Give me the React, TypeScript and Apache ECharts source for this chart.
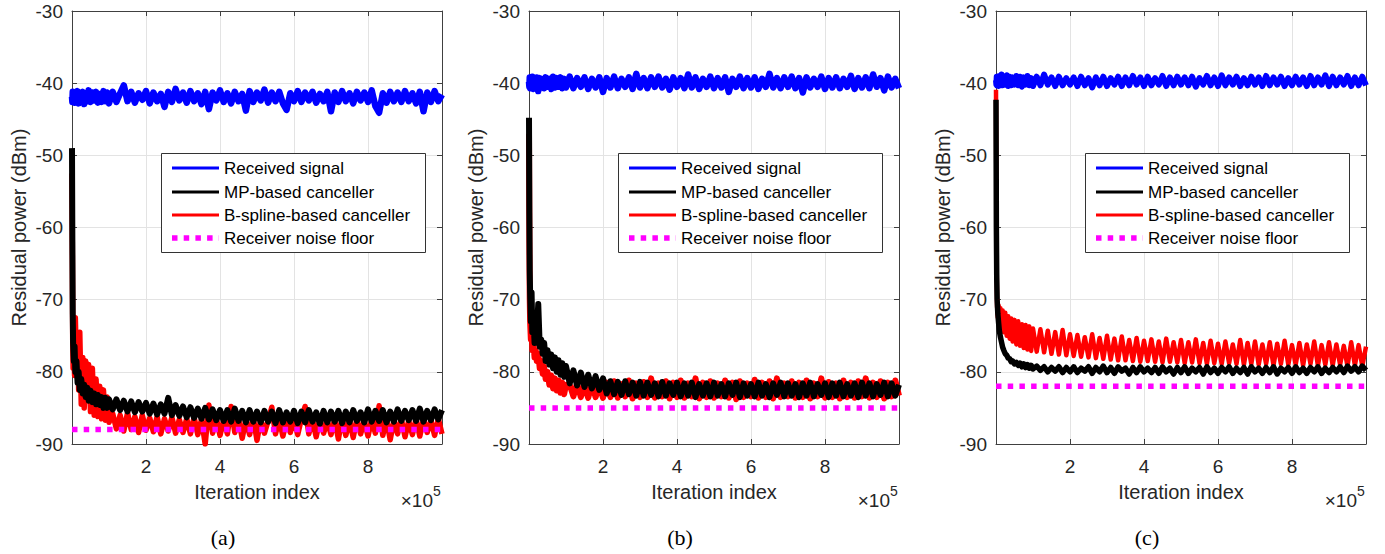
import React, { useEffect, useRef } from "react";
import * as echarts from "echarts";

// Iteration index (x 10^5)
const ITER = [
  0, 0.01, 0.02, 0.03, 0.05, 0.07, 0.09, 0.12, 0.15, 0.18, 0.21, 0.25, 0.29, 0.33, 0.37, 0.41, 0.45,
  0.5, 0.55, 0.6, 0.65, 0.7, 0.75, 0.8, 0.85, 0.9, 0.95, 1.0,
  1.1, 1.2, 1.3, 1.4, 1.5, 1.6, 1.7, 1.8, 1.9, 2.0,
  2.1, 2.2, 2.3, 2.4, 2.5, 2.6, 2.7, 2.8, 2.9, 3.0,
  3.1, 3.2, 3.3, 3.4, 3.5, 3.6, 3.7, 3.8, 3.9, 4.0,
  4.1, 4.2, 4.3, 4.4, 4.5, 4.6, 4.7, 4.8, 4.9, 5.0,
  5.1, 5.2, 5.3, 5.4, 5.5, 5.6, 5.7, 5.8, 5.9, 6.0,
  6.1, 6.2, 6.3, 6.4, 6.5, 6.6, 6.7, 6.8, 6.9, 7.0,
  7.1, 7.2, 7.3, 7.4, 7.5, 7.6, 7.7, 7.8, 7.9, 8.0,
  8.1, 8.2, 8.3, 8.4, 8.5, 8.6, 8.7, 8.8, 8.9, 9.0,
  9.1, 9.2, 9.3, 9.4, 9.5, 9.6, 9.7, 9.8, 9.9, 10.0,
];

// ---------- Panel (a) ----------
const BLUE_A = [
  -41.9, -42.6, -41.2, -42.5, -41.4, -42.7, -41.3, -42.4, -41.1, -42.8,
  -41.5, -42.3, -41.2, -42.9, -41.4, -42.5, -41.0, -42.6, -41.3, -42.4,
  -41.2, -42.7, -41.5, -42.6, -41.1, -42.5, -41.3, -42.8,
  -41.2, -42.6, -41.4, -40.3, -42.5, -41.2, -42.7, -41.4, -42.3, -41.1,
  -42.8, -41.3, -42.5, -41.5, -43.3, -41.2, -42.6, -40.8, -42.4, -41.3,
  -42.7, -41.1, -42.5, -41.4, -42.9, -41.2, -43.6, -41.3, -42.4, -41.0,
  -42.6, -41.4, -42.8, -41.2, -42.5, -41.5, -43.8, -41.1, -42.6, -41.3,
  -42.4, -40.9, -42.7, -41.3, -42.5, -41.2, -42.8, -43.7, -41.4, -42.5,
  -41.1, -42.6, -41.3, -42.4, -41.2, -42.7, -41.5, -42.5, -41.2, -43.9,
  -41.3, -42.6, -41.1, -42.5, -41.4, -42.8, -41.2, -42.4, -41.3, -42.6,
  -41.0, -43.2, -44.1, -41.4, -42.7, -41.2, -42.5, -41.3, -42.6, -41.1,
  -42.5, -41.4, -42.8, -41.2, -43.9, -41.3, -42.6, -41.1, -42.5, -41.6,
];
const MP_A = [
  -49, -62, -72, -76, -78.5, -76.5, -80, -78.5, -81.5, -80,
  -82.5, -81, -83, -81.8, -83.5, -82.2, -84, -82.6, -84.2, -83,
  -84.5, -83.2, -84.6, -83.5, -85, -83.6, -85, -83.8,
  -85.2, -83.8, -85.3, -84, -85.5, -84.1, -85.6, -84.2, -85.5, -84.3,
  -85.8, -84.4, -85.9, -84.5, -85.8, -83.6, -86, -84.6, -86.1, -84.8,
  -86.3, -84.9, -86.4, -85.1, -86.5, -85, -86.6, -85.2, -86.7, -85.3,
  -86.8, -85.3, -86.9, -85.1, -86.8, -85.4, -87, -85.3, -86.9, -85.5,
  -87, -85.4, -86.9, -85.5, -87.1, -85.3, -87, -85.6, -86.9, -85.4,
  -87.1, -85.5, -87, -85.3, -86.9, -85.6, -87.2, -85.4, -87, -85.5,
  -86.9, -85.4, -87.1, -85.5, -87, -85.3, -86.8, -85.6, -87, -85.2,
  -86.9, -85.4, -86.8, -85.3, -87, -85.5, -86.9, -85.2, -86.8, -85.4,
  -86.7, -85.3, -86.8, -85.1, -86.9, -85.4, -86.7, -85.2, -86.6, -85.3,
];
const BS_A = [
  -52.5, -64, -76, -79.5, -77, -80.5, -72.5, -79, -75, -82.5,
  -74.5, -84.5, -78, -85, -78.5, -84, -79, -85.5, -79.5, -86,
  -81, -86.2, -82, -86.5, -82.5, -86.7, -83.5, -87,
  -85.8, -87.9, -86, -88.2, -85.7, -88, -86.2, -88.4, -86, -88.1,
  -86.4, -88.3, -86.2, -88.6, -86.5, -88.2, -86.3, -88.5, -86.6, -88.4,
  -86.5, -88.6, -86.3, -88.7, -86.6, -90, -84.6, -88.5, -86.4, -88.8,
  -86.7, -88.6, -84.8, -88.4, -86.5, -89.2, -86.6, -88.7, -86.4, -89.5,
  -86.6, -88.5, -86.8, -84.9, -88.6, -86.5, -88.9, -86.7, -88.4, -86.6,
  -88.7, -86.5, -84.8, -88.6, -86.7, -89, -86.5, -88.5, -86.8, -88.7,
  -86.6, -89.3, -86.4, -88.8, -86.7, -89.1, -86.5, -88.6, -86.8, -88.9,
  -86.6, -88.5, -84.7, -88.8, -86.5, -89.4, -86.7, -88.6, -86.5, -89,
  -86.8, -88.7, -86.5, -88.9, -86.6, -88.4, -86.7, -88.8, -86.5, -88.6,
];

// ---------- Panel (b) ----------
const BLUE_B = [
  -39.8, -40.5, -39.2, -40.7, -39.3, -40.6, -39.1, -40.8, -39.4, -40.5,
  -39.2, -41.1, -39.3, -40.6, -39.5, -40.7, -39.2, -40.5, -39.4, -40.8,
  -39.1, -40.6, -39.3, -40.5, -39.2, -40.7, -39.4, -40.6,
  -39.1, -40.7, -39.3, -40.5, -39.2, -40.8, -39.4, -40.6, -39.2, -41.2,
  -39.3, -40.6, -39.1, -40.7, -39.4, -40.5, -39.2, -40.8, -38.7, -40.6,
  -39.3, -40.7, -39.2, -40.5, -39.1, -40.6, -39.4, -40.9, -39.2, -40.5,
  -39.3, -40.7, -38.8, -40.6, -39.2, -40.8, -39.4, -40.5, -39.1, -40.7,
  -39.3, -40.6, -39.2, -41.2, -39.4, -40.5, -39.1, -40.7, -39.3, -40.6,
  -39.2, -40.8, -39.4, -40.5, -38.7, -40.6, -39.3, -40.7, -39.2, -40.5,
  -39.1, -40.7, -39.3, -41.3, -39.2, -40.6, -39.4, -40.5, -39.1, -40.8,
  -39.3, -40.6, -39.2, -40.7, -39.4, -40.5, -39.0, -40.8, -39.3, -40.6,
  -39.2, -40.7, -38.8, -40.5, -39.3, -41.0, -39.1, -40.6, -39.4, -40.7,
];
const MP_B = [
  -44.8, -58, -66, -69, -73, -69, -74.5, -72.5, -76, -74,
  -74.5, -70.6, -76.5, -75.5, -77.5, -76, -78.5, -77, -79, -77.6,
  -79.5, -78, -80, -78.4, -80.4, -78.8, -80.7, -79.2,
  -81.6, -79.8, -81.9, -80.1, -82.1, -80.4, -82.3, -80.6, -82.5, -80.9,
  -83.0, -81.3, -83.1, -81.4, -83.2, -81.3, -83.1, -81.5, -83.3, -81.4,
  -83.3, -81.5, -83.2, -81.6, -83.4, -81.4, -83.3, -81.6, -83.2, -81.5,
  -83.4, -81.6, -83.3, -81.5, -83.5, -81.7, -83.3, -81.6, -83.4, -81.5,
  -83.3, -81.7, -83.4, -81.6, -83.2, -81.5, -83.5, -81.6, -83.3, -81.7,
  -83.4, -81.5, -83.3, -81.7, -83.5, -81.6, -83.2, -81.5, -83.4, -81.6,
  -83.3, -81.7, -83.5, -81.6, -83.3, -81.5, -83.4, -81.7, -83.2, -81.6,
  -83.5, -81.6, -83.3, -81.5, -83.4, -81.7, -83.3, -81.6, -83.5, -81.5,
  -83.3, -81.6, -83.4, -81.7, -83.2, -81.5, -83.4, -81.6, -83.3, -81.8,
];
const BS_B = [
  -47, -62, -70, -73, -75.5, -73.5, -77, -76, -78, -77,
  -78.5, -77.5, -79.5, -78.5, -80.3, -79.3, -81, -80, -81.8, -80.5,
  -82.3, -80.9, -82.6, -81.2, -82.9, -81.5, -83.1, -81.8,
  -81.8, -83.4, -81.6, -83.5, -81.9, -83.6, -81.7, -83.5, -81.9, -83.6,
  -81.5, -83.5, -81.3, -83.6, -81.7, -83.4, -81.2, -83.7, -81.6, -83.5,
  -81.4, -83.5, -80.9, -83.6, -81.6, -83.4, -81.3, -83.7, -81.5, -83.5,
  -81.2, -83.6, -81.6, -83.4, -80.9, -83.7, -81.5, -83.5, -81.3, -83.6,
  -81.6, -83.4, -81.2, -83.6, -81.5, -83.8, -81.3, -83.5, -81.6, -83.4,
  -81.1, -83.6, -81.5, -83.5, -81.3, -83.7, -80.9, -83.5, -81.6, -83.4,
  -81.3, -83.6, -81.5, -83.5, -81.2, -83.7, -81.6, -83.4, -80.9, -83.6,
  -81.4, -83.5, -81.6, -83.7, -81.2, -83.5, -81.5, -83.6, -81.3, -83.4,
  -80.9, -83.6, -81.5, -83.5, -81.3, -83.7, -81.5, -83.4, -81.2, -83.3,
];

// ---------- Panel (c) ----------
const BLUE_C = [
  -39.6, -40.2, -39.1, -40.3, -39.2, -40.4, -39.0, -40.2, -38.8, -40.3,
  -39.2, -40.2, -38.9, -40.4, -39.1, -40.3, -39.2, -40.2, -39.0, -40.3,
  -39.1, -40.5, -39.2, -40.2, -39.0, -40.3, -39.3, -40.4,
  -39.1, -40.3, -38.8, -40.2, -39.2, -40.4, -39.1, -40.3, -39.3, -40.2,
  -39.2, -40.4, -39.1, -40.3, -39.3, -40.6, -39.2, -40.3, -39.1, -40.4,
  -39.3, -40.2, -39.1, -40.4, -39.2, -40.3, -39.0, -40.2, -39.2, -40.4,
  -39.1, -40.3, -39.3, -40.2, -39.0, -40.4, -39.2, -40.3, -39.1, -40.2,
  -39.2, -40.3, -39.1, -40.5, -39.3, -40.2, -39.0, -40.3, -39.2, -40.4,
  -38.9, -40.3, -39.2, -40.2, -39.1, -40.4, -39.3, -40.3, -39.1, -40.2,
  -39.2, -40.4, -39.0, -40.3, -39.2, -40.2, -39.1, -40.4, -39.3, -40.3,
  -39.1, -40.2, -39.2, -40.4, -39.0, -40.3, -39.2, -40.2, -38.9, -40.4,
  -39.1, -40.3, -39.2, -40.2, -39.0, -40.4, -39.2, -40.3, -39.1, -40.3,
];
const MP_C = [
  -42.3, -60, -67, -70, -72, -73.2, -74.3, -75.2, -75.9, -76.6,
  -77, -77.5, -77.7, -78.1, -78.2, -78.6, -78.5, -78.9, -78.7, -79.1,
  -78.8, -79.3, -78.9, -79.4, -79, -79.5, -79.1, -79.6,
  -79.2, -79.8, -79.3, -80.0, -79.4, -79.9, -79.3, -80.1, -79.4, -80.0,
  -79.3, -80.1, -79.5, -79.9, -79.3, -80.2, -79.4, -80.0, -79.2, -80.1,
  -79.4, -80.2, -79.3, -79.9, -79.5, -80.3, -79.4, -80.1, -79.3, -80.0,
  -79.5, -80.1, -79.4, -80.2, -79.3, -80.0, -79.5, -80.3, -79.4, -80.1,
  -79.3, -80.2, -79.5, -80.0, -79.4, -80.3, -79.3, -80.1, -79.5, -80.2,
  -79.4, -80.0, -79.3, -80.2, -79.5, -80.1, -79.4, -80.3, -79.3, -80.0,
  -79.5, -80.2, -79.4, -80.1, -79.3, -80.3, -79.5, -80.0, -79.4, -80.2,
  -79.3, -80.1, -79.5, -80.2, -79.4, -80.0, -79.3, -80.2, -79.5, -80.1,
  -79.4, -80.0, -79.3, -80.1, -79.2, -79.9, -79.3, -80.0, -79.2, -79.8,
];
const BS_C = [
  -40.9, -58, -66, -71, -72.5, -70.8, -73, -71.2, -73.8, -71.5,
  -74.5, -71.8, -75, -72.3, -75.4, -72.6, -75.8, -72.8, -76.2, -73,
  -76.4, -73.4, -76.7, -73.5, -76.9, -73.7, -77.1, -74,
  -77.2, -74.1, -77.3, -74.3, -77.5, -74.5, -77.6, -74.2, -77.7, -74.8,
  -77.8, -74.9, -77.9, -75.2, -78.0, -74.8, -78.1, -75.3, -78.2, -75.0,
  -78.3, -75.4, -78.4, -75.1, -78.4, -75.6, -78.5, -75.3, -78.6, -75.7,
  -78.5, -75.5, -78.6, -75.8, -78.7, -75.4, -78.6, -75.9, -78.7, -75.6,
  -78.8, -75.9, -78.7, -75.5, -78.8, -76.0, -78.9, -75.7, -78.8, -76.1,
  -78.9, -75.8, -78.8, -76.2, -78.9, -75.6, -79.0, -76.0, -78.9, -75.8,
  -79.0, -76.2, -78.9, -75.9, -79.1, -76.1, -78.9, -75.7, -79.0, -76.3,
  -79.0, -76.0, -79.1, -76.2, -78.9, -75.8, -79.1, -76.3, -79.0, -75.9,
  -79.1, -76.2, -79.0, -76.4, -79.2, -75.9, -79.1, -76.3, -79.2, -76.5,
];

const NOISE_FLOOR = [-88, -85, -82];
const CAPTIONS = ["(a)", "(b)", "(c)"];
const SERIES_NAMES = [
  "Received signal",
  "MP-based canceller",
  "B-spline-based canceller",
  "Receiver noise floor",
];
const SERIES_COLORS = ["#0000ff", "#000000", "#ff0000", "#ff00ff"];
const X_MIN = 0;
const X_MAX = 10;
const X_STEP = 2;
const Y_MIN = -90;
const Y_MAX = -30;
const Y_STEP = 10;

const PANELS = [
  { blue: BLUE_A, mp: MP_A, bs: BS_A, floor: NOISE_FLOOR[0], widths: [6.5, 6, 5.5] },
  { blue: BLUE_B, mp: MP_B, bs: BS_B, floor: NOISE_FLOOR[1], widths: [6.5, 6, 6] },
  { blue: BLUE_C, mp: MP_C, bs: BS_C, floor: NOISE_FLOOR[2], widths: [6, 5.5, 4.5] },
];

// layout
const GRID_LEFT = [72, 529, 996];
const GRID_TOP = 11;
const GRID_W = 370;
const GRID_H = 433;
const SANS = "'Liberation Sans', Arial, Helvetica, sans-serif";
const SERIF = "'Liberation Serif', 'Times New Roman', serif";
const AXIS_COLOR = "#404040";
const TEXT_COLOR = "#262626";
const GRID_COLOR = "#e3e3e3";
const DOT_DASH = [5.5, 6.2];

function pairs(ys: number[]) {
  const out: number[][] = [];
  for (let i = 0; i < ITER.length && i < ys.length; i++) out.push([ITER[i], ys[i]]);
  return out;
}

function buildOption() {
  const grid: any[] = [];
  const xAxis: any[] = [];
  const yAxis: any[] = [];
  const series: any[] = [];
  const graphic: any[] = [];

  const axisLine = { show: true, onZero: false, lineStyle: { color: AXIS_COLOR, width: 1 } };
  const axisTick = { show: true, inside: true, length: 5, lineStyle: { color: AXIS_COLOR, width: 1 } };

  PANELS.forEach((p, i) => {
    const left = GRID_LEFT[i];
    const right = left + GRID_W;
    grid.push({ left, top: GRID_TOP, width: GRID_W, height: GRID_H });

    xAxis.push({
      type: "value", gridIndex: i, min: X_MIN, max: X_MAX, interval: X_STEP, position: "bottom",
      name: "Iteration index", nameLocation: "middle", nameGap: 38,
      nameTextStyle: { fontSize: 20, color: TEXT_COLOR, fontFamily: SANS },
      axisLine, axisTick,
      axisLabel: { fontSize: 19, color: TEXT_COLOR, fontFamily: SANS, margin: 13, showMinLabel: false, showMaxLabel: false },
      splitLine: { show: true, lineStyle: { color: GRID_COLOR, width: 1 } },
    });
    xAxis.push({
      type: "value", gridIndex: i, min: X_MIN, max: X_MAX, interval: X_STEP, position: "top",
      axisLine, axisTick, axisLabel: { show: false }, splitLine: { show: false },
    });
    yAxis.push({
      type: "value", gridIndex: i, min: Y_MIN, max: Y_MAX, interval: Y_STEP, position: "left",
      name: "Residual power (dBm)", nameLocation: "middle", nameGap: 43, nameRotate: 90,
      nameTextStyle: { fontSize: 20, color: TEXT_COLOR, fontFamily: SANS },
      axisLine, axisTick,
      axisLabel: { fontSize: 19, color: TEXT_COLOR, fontFamily: SANS, margin: 9 },
      splitLine: { show: true, lineStyle: { color: GRID_COLOR, width: 1 } },
    });
    yAxis.push({
      type: "value", gridIndex: i, min: Y_MIN, max: Y_MAX, interval: Y_STEP, position: "right",
      axisLine, axisTick, axisLabel: { show: false }, splitLine: { show: false },
    });

    const common = {
      type: "line", xAxisIndex: 2 * i, yAxisIndex: 2 * i, showSymbol: false, symbol: "none",
      silent: true, animation: false,
    };
    series.push({ ...common, name: SERIES_NAMES[0], data: pairs(p.blue), lineStyle: { color: SERIES_COLORS[0], width: p.widths[0], join: "round" }, itemStyle: { color: SERIES_COLORS[0] } });
    series.push({ ...common, name: SERIES_NAMES[2], data: pairs(p.bs), lineStyle: { color: SERIES_COLORS[2], width: p.widths[2], join: "round" }, itemStyle: { color: SERIES_COLORS[2] } });
    series.push({ ...common, name: SERIES_NAMES[1], data: pairs(p.mp), lineStyle: { color: SERIES_COLORS[1], width: p.widths[1], join: "round" }, itemStyle: { color: SERIES_COLORS[1] } });
    series.push({
      ...common, name: SERIES_NAMES[3], data: [[X_MIN, p.floor], [X_MAX, p.floor]],
      lineStyle: { color: SERIES_COLORS[3], width: 5.5, type: DOT_DASH, cap: "butt" },
      itemStyle: { color: SERIES_COLORS[3] },
    });

    // legend box
    const bx = right - 281;
    const by = 153;
    graphic.push({
      type: "rect", z: 100,
      shape: { x: bx + 0.5, y: by + 0.5, width: 264, height: 99 },
      style: { fill: "#ffffff", stroke: "#333333", lineWidth: 1 },
    });
    const rowY = [15, 39, 62, 85];
    SERIES_NAMES.forEach((nm, k) => {
      const y = by + rowY[k];
      const isDot = k === 3;
      graphic.push({
        type: "line", z: 101,
        shape: { x1: bx + 11, y1: y, x2: bx + 58, y2: y },
        style: { stroke: SERIES_COLORS[k], lineWidth: isDot ? 5.5 : 3, lineDash: isDot ? DOT_DASH : null },
      });
      graphic.push({
        type: "text", z: 101, x: bx + 63, y,
        style: { text: nm, fontSize: 17, fontFamily: SANS, fill: "#000000", align: "left", verticalAlign: "middle" },
      });
    });

    // x10^5 exponent
    graphic.push({
      type: "text", z: 101, x: right - 9, y: 500,
      style: { text: "×10", fontSize: 19, fontFamily: SANS, fill: TEXT_COLOR, align: "right", verticalAlign: "middle" },
    });
    graphic.push({
      type: "text", z: 101, x: right - 9, y: 491,
      style: { text: "5", fontSize: 14, fontFamily: SANS, fill: TEXT_COLOR, align: "left", verticalAlign: "middle" },
    });

    // caption
    graphic.push({
      type: "text", z: 101, x: left + 151, y: 537,
      style: { text: CAPTIONS[i], fontSize: 22, fontFamily: SERIF, fill: "#000000", align: "center", verticalAlign: "middle" },
    });
  });

  return {
    animation: false,
    backgroundColor: "#ffffff",
    textStyle: { fontFamily: SANS },
    grid, xAxis, yAxis, series, graphic,
  };
}

export default function App() {
  const ref = useRef<HTMLDivElement | null>(null);
  useEffect(() => {
    if (!ref.current) return;
    const chart = echarts.init(ref.current, undefined, { renderer: "svg" });
    chart.setOption(buildOption() as any);
    return () => chart.dispose();
  }, []);
  return (
    <div
      ref={ref}
      style={{ position: "absolute", left: 0, top: 0, width: 1385, height: 554, background: "#fff" }}
    />
  );
}
